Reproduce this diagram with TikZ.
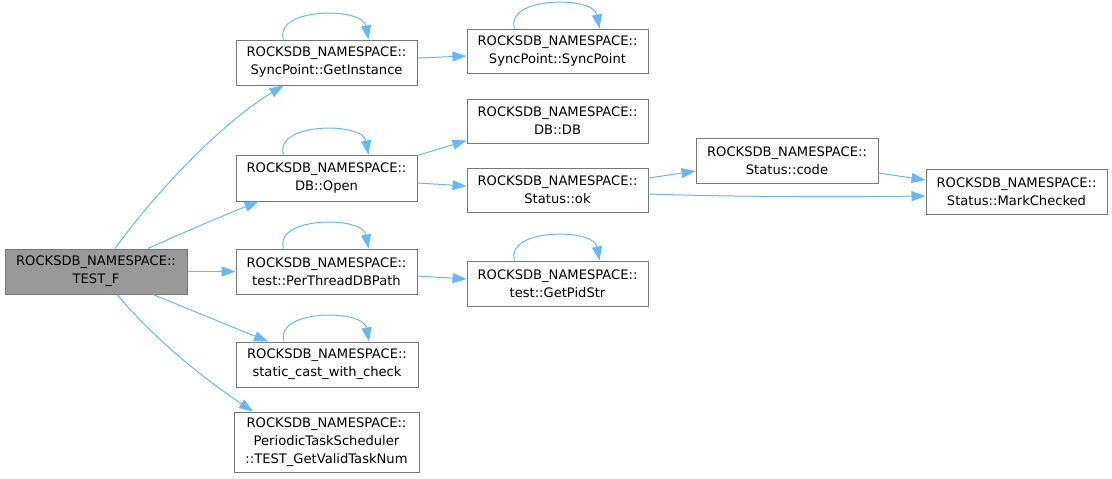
\documentclass[tikz,border=0pt]{standalone}
\usepackage{fontspec}
\setmainfont{DejaVu Sans}
\usetikzlibrary{arrows.meta}
\definecolor{edgeblue}{HTML}{63B8FF}
\definecolor{boxline}{HTML}{777777}
\definecolor{rootfill}{HTML}{999999}
\begin{document}
\begin{tikzpicture}[x=1pt,y=-1pt,
  fn/.style={draw=boxline,line width=1pt,fill=white,inner sep=0pt,align=center,
    minimum width=181pt,minimum height=45pt,
    font=\fontsize{13.1}{18}\selectfont},
  rootfn/.style={fn,fill=rootfill,minimum width=182pt},
  call/.style={draw=edgeblue,line width=1pt,-{Triangle[length=14pt,width=10pt]}}
]
\useasboundingbox (0,0) rectangle (1112,479);

\node[rootfn] (te) at (96,271.5) {ROCKSDB\_NAMESPACE::\\TEST\_F};
\node[fn] (gi) at (326.5,62.5) {ROCKSDB\_NAMESPACE::\\SyncPoint::GetInstance};
\node[fn,minimum height=44pt] (sp) at (557.5,51) {ROCKSDB\_NAMESPACE::\\SyncPoint::SyncPoint};
\node[fn,minimum height=44pt] (db) at (557.5,121) {ROCKSDB\_NAMESPACE::\\DB::DB};
\node[fn,minimum height=46pt] (op) at (326.5,178) {ROCKSDB\_NAMESPACE::\\DB::Open};
\node[fn,minimum height=44pt] (ok) at (557.5,190) {ROCKSDB\_NAMESPACE::\\Status::ok};
\node[fn,minimum width=182pt] (co) at (787,160.5) {ROCKSDB\_NAMESPACE::\\Status::code};
\node[fn] (mc) at (1016.5,191.5) {ROCKSDB\_NAMESPACE::\\Status::MarkChecked};
\node[fn] (pt) at (326.5,271.5) {ROCKSDB\_NAMESPACE::\\test::PerThreadDBPath};
\node[fn] (gp) at (557.5,283.5) {ROCKSDB\_NAMESPACE::\\test::GetPidStr};
\node[fn,minimum width=182pt] (sc) at (327,364.5) {ROCKSDB\_NAMESPACE::\\static\_cast\_with\_check};
\node[fn,minimum width=185pt,minimum height=60pt] (pd) at (326.5,442) {ROCKSDB\_NAMESPACE::\\PeriodicTaskScheduler\\::TEST\_GetValidTaskNum};

% self loops
\foreach \n in {gi,sp,op,pt,gp,sc}{
  \draw[call] ([xshift=-43pt]\n.north) .. controls +(-10,-32) and +(-6,-33) .. ([xshift=42pt]\n.north);
}

% calls from TEST_F
\draw[call] ([xshift=19pt]te.north) .. controls +(45,-62) and +(-58,35) .. ([xshift=-43pt]gi.south);
\draw[call] ([xshift=52pt]te.north) .. controls +(35,-16) and +(-35,14) .. ([xshift=-68pt]op.south);
\draw[call] (te.east) -- (pt.west);
\draw[call] ([xshift=57pt]te.south) -- ([xshift=-59pt]sc.north);
\draw[call] ([xshift=21pt]te.south) .. controls +(40,48) and +(-42,-28) .. ([xshift=-73.5pt]pd.north);

% other calls
\draw[call] ([yshift=4.5pt]gi.east) -- ([yshift=-5pt]sp.west);
\draw[call] ([yshift=-1pt]op.north east) -- ([yshift=3pt]db.south west);
\draw[call] ([yshift=-5pt]op.east) -- ([yshift=4pt]ok.west);
\draw[call] ([yshift=12pt]ok.east) -- ([yshift=-10.5pt]co.west);
\draw[call] ([yshift=-4pt]ok.east) .. controls +(90,3) and +(-90,1) .. ([yshift=-4.5pt]mc.west);
\draw[call] ([yshift=-12.5pt]co.east) -- ([yshift=11.5pt]mc.west);
\draw[call] ([yshift=-4.5pt]pt.east) -- ([yshift=4.5pt]gp.west);
\end{tikzpicture}
\end{document}
